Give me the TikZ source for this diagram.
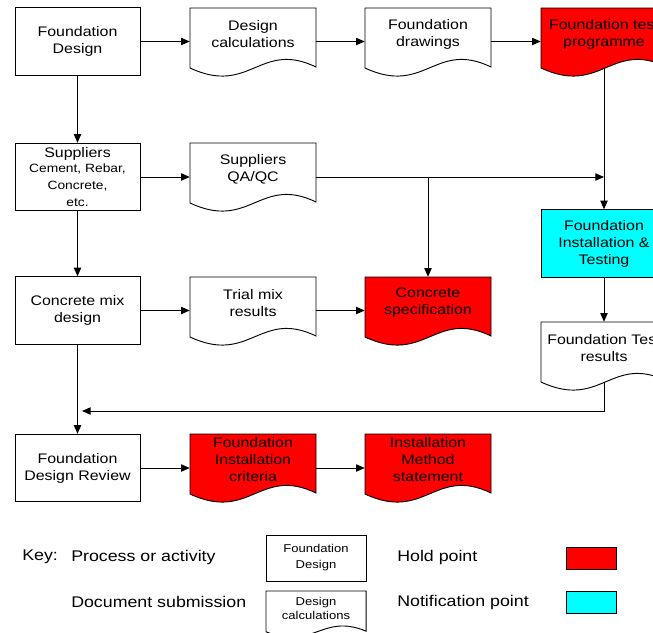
\documentclass[tikz,border=0pt]{standalone}
\usepackage{fontspec}
\setmainfont{Liberation Sans}[FakeStretch=1.15]
\usetikzlibrary{arrows.meta,calc}

\definecolor{holdred}{RGB}{255,0,0}
\definecolor{notecyan}{RGB}{0,255,255}

\newcommand\mainsize{\fontsize{10.4}{12.75}\selectfont}
\newcommand\subsize{\fontsize{9}{11.25}\selectfont}
\newcommand\keysize{\fontsize{11.6}{14}\selectfont}
\newcommand\keysmall{\fontsize{8.5}{12}\selectfont}

\tikzset{
  procbox/.style={draw, fill=white, line width=0.7pt, minimum width=93.75pt,
    minimum height=50.6pt, inner sep=0pt, align=center, font=\mainsize},
  doctext/.style={minimum width=94.5pt, minimum height=39pt, inner sep=0pt,
    align=center, font=\mainsize},
  docline/.style={draw, line width=0.7pt},
  arr/.style={line width=0.7pt, -{Triangle[length=6.5pt,width=5.5pt]}},
  plain/.style={line width=0.7pt},
  keylabel/.style={anchor=west, inner sep=0pt, font=\keysize},
  keyswatch/.style={draw, line width=0.7pt, minimum width=37.5pt,
    minimum height=16.5pt, inner sep=0pt},
}

% document symbol: a sheet with a wavy lower edge; the text area is named #2,
% and #2-b marks the middle of the wavy edge
\newcommand\docnode[5][white]{%
  \filldraw[docline, fill=#1, shift={(#3,#4)}] (0,0) -- (126,0) -- (126,59)
     .. controls (70,32) and (60,88) .. (0,60) -- cycle;
  \node[doctext] (#2) at ($(#3,#4)+(63,26)$) {#5};
  \coordinate (#2-b) at ($(#3,#4)+(63,60)$);
}

\begin{document}
\begin{tikzpicture}[x=0.75pt, y=-0.75pt]
\useasboundingbox (0,0) rectangle (653,632);
\clip (0,0) rectangle (653,632);
\fill[white] (0,0) rectangle (653,632);

% processes
\node[procbox] (fd)  at (77.5,41.5) {Foundation\\Design};
\node[procbox] (sup) at (77.5,177)
  {Suppliers\\[-1.5pt]\subsize Cement, Rebar,\\\subsize Concrete,\\\subsize etc.};
\node[procbox] (cmd) at (77.5,310.5) {Concrete mix\\design};
\node[procbox] (fdr) at (77.5,468) {Foundation\\Design Review};
\node[procbox, fill=notecyan, minimum width=94.5pt] (fit) at (604,243.5)
  {Foundation\\Installation \&\\Testing};

% documents
\docnode{dc}{190}{8}{Design\\calculations}
\docnode{fdw}{365}{8}{Foundation\\drawings}
\docnode[holdred]{ftp}{541}{8}{Foundation test\\programme}
\docnode{qa}{190}{143}{Suppliers\\QA/QC}
\docnode{tm}{190}{277}{Trial mix\\results}
\docnode[holdred]{cs}{365}{277}{Concrete\\specification}
\docnode{ftr}{541}{322}{Foundation Test\\results}
\docnode[holdred]{fic}{190}{434}{Foundation\\Installation\\criteria}
\docnode[holdred]{ims}{365}{434}{Installation\\Method\\statement}

% junctions and free ends
\coordinate (j1) at (ftp |- sup);
\coordinate (j2) at (cs |- sup);
\coordinate (fb) at (604,411);
\coordinate (fe) at (82,411);

% connectors
\draw[arr] (fd) -- (fd -| dc.west);
\draw[arr] (dc.east |- fd) -- (fdw.west |- fd);
\draw[arr] (fdw.east |- fd) -- (ftp.west |- fd);
\draw[arr] (fd) -- (sup);
\draw[arr] (sup) -- (sup -| qa.west);
\draw[arr] (qa.east |- sup) -- (j1);
\draw[arr] (ftp-b) -- (fit);
\draw[arr] (j2) -- (cs.north);
\draw[arr] (sup) -- (cmd);
\draw[arr] (cmd) -- (cmd -| tm.west);
\draw[arr] (tm.east |- cmd) -- (cs.west |- cmd);
\draw[arr] (fit) -- (ftr.north);
\draw[arr] (ftr-b) -- (fb) -- (fe);
\draw[arr] (cmd) -- (fdr);
\draw[arr] (fdr) -- (fdr -| fic.west);
\draw[arr] (fic.east |- fdr) -- (ims.west |- fdr);

% key
\node[keylabel] (kkey) at (22,557) {Key:};
\node[keylabel] (kproc) at (71,557) {Process or activity};
\node[keylabel] (kdocl) at (71,602) {Document submission};
\node[procbox, minimum width=75pt, minimum height=34.5pt, font=\keysmall]
  (kbox) at (316,558) {Foundation\\Design};
\begin{scope}[shift={(266,591)}, xscale=0.794, yscale=0.68]
  \filldraw[docline, fill=white] (0,0) -- (126,0) -- (126,59)
     .. controls (70,32) and (60,88) .. (0,60) -- cycle;
\end{scope}
\node[align=center, inner sep=0pt, font=\fontsize{8.5}{10}\selectfont]
  (kdoc) at (316,608.5) {Design\\calculations};
\node[keylabel] (khold) at (397,557) {Hold point};
\node[keylabel] (knote) at (397,602) {Notification point};
\node[keyswatch, fill=holdred] (kred) at (591,558) {};
\node[keyswatch, fill=notecyan] (kcyan) at (591,602) {};
\end{tikzpicture}
\end{document}
